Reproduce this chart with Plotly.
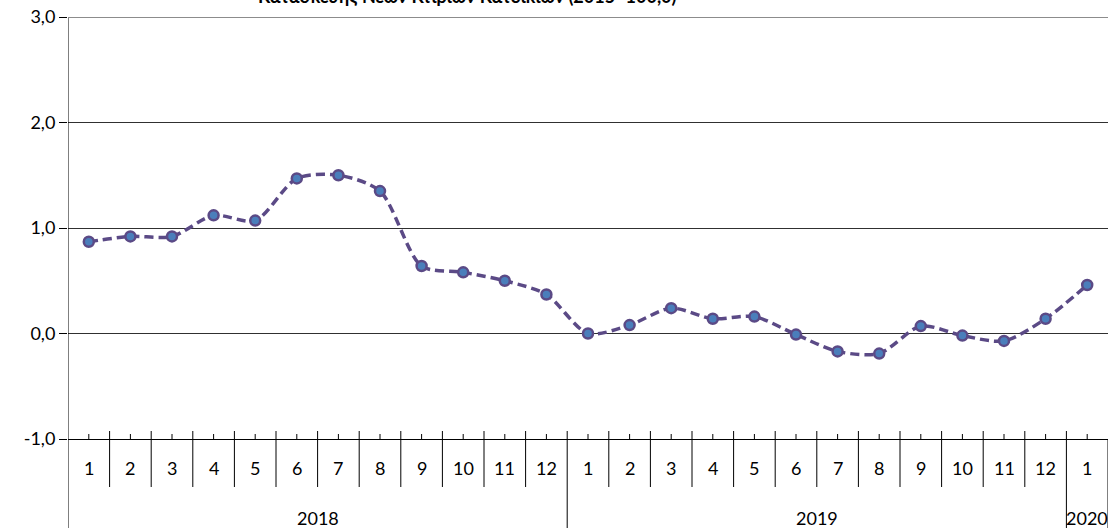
import plotly.graph_objects as go

# ---- data ----
months = ["1", "2", "3", "4", "5", "6", "7", "8", "9", "10", "11", "12",
          "1", "2", "3", "4", "5", "6", "7", "8", "9", "10", "11", "12",
          "1"]
years = ["2018"] * 12 + ["2019"] * 12 + ["2020"]
values = [0.87, 0.92, 0.92, 1.12, 1.07, 1.47, 1.50, 1.35, 0.64, 0.58, 0.50, 0.37,
          0.00, 0.08, 0.24, 0.14, 0.16, -0.01, -0.17, -0.19, 0.07, -0.02, -0.07, 0.14,
          0.46]
title_text = "Κατασκευής Νέων Κτιρίων Κατοικιών (2015=100,0)"
y_ticks = [-1, 0, 1, 2, 3]
y_tick_labels = ["-1,0", "0,0", "1,0", "2,0", "3,0"]

FONT = "Lato"
FS = 18
x = list(range(len(values)))

fig = go.Figure()
fig.add_trace(go.Scatter(
    x=x, y=values, mode="lines+markers",
    line=dict(color="#5b4a86", width=3.5, dash="9px,5px", shape="spline", smoothing=0.8),
    marker=dict(size=10, color="#4a7ebb", line=dict(color="#5b4a86", width=2.5)),
    hoverinfo="y",
))

# ---- category axis decoration (Excel-like two-level axis) ----
H = 422.0  # plot height in px
def py(px_below_axis):
    return -px_below_axis / H

shapes = []
n = len(values)
for k in range(1, n):
    year_boundary = years[k] != years[k - 1]
    shapes.append(dict(type="line", xref="x", yref="paper",
                       x0=k - 0.5, x1=k - 0.5, y0=8 / H,
                       y1=py(89) if year_boundary else py(48),
                       line=dict(color="#000000", width=1)))
for k in range(n):
    shapes.append(dict(type="line", xref="x", yref="paper",
                       x0=k, x1=k, y0=5 / H, y1=0,
                       line=dict(color="#000000", width=1)))
shapes.append(dict(type="line", xref="x", yref="paper", x0=-0.5, x1=-0.5,
                   y0=1, y1=py(89), line=dict(color="#000000", width=1)))
shapes.append(dict(type="line", xref="x", yref="paper", x0=n - 0.5, x1=n - 0.5,
                   y0=0, y1=py(89), line=dict(color="#000000", width=1)))
shapes.append(dict(type="line", xref="paper", yref="y", x0=0, x1=1, y0=3, y1=3,
                   line=dict(color="#8c8c8c", width=2)))

annotations = []
for k, m in enumerate(months):
    annotations.append(dict(x=k, y=py(29), xref="x", yref="paper", text=m,
                            showarrow=False, xanchor="center", yanchor="middle",
                            font=dict(family=FONT, size=FS, color="#000000")))
groups = []
for k, yv in enumerate(years):
    if not groups or groups[-1][0] != yv:
        groups.append([yv, k, k])
    else:
        groups[-1][2] = k
for yv, a, b in groups:
    annotations.append(dict(x=(a + b) / 2, y=py(79), xref="x", yref="paper", text=yv,
                            showarrow=False, xanchor="center", yanchor="middle",
                            font=dict(family=FONT, size=FS, color="#000000")))
annotations.append(dict(x=(467 - 68) / 1040.0, y=1 + 8 / H, xref="paper", yref="paper",
                        text="<b>" + title_text + "</b>",
                        showarrow=False, xanchor="center", yanchor="bottom",
                        font=dict(family=FONT, size=18, color="#000000")))

fig.update_layout(
    width=1110, height=528,
    margin=dict(l=68, r=2, t=17, b=89),
    paper_bgcolor="white", plot_bgcolor="white",
    showlegend=False,
    font=dict(family=FONT, size=FS, color="#000000"),
    xaxis=dict(range=[-0.5, n - 0.5], showticklabels=False, showgrid=False,
               zeroline=False, showline=True, linecolor="#000000", linewidth=1,
               ticks="", automargin=False),
    yaxis=dict(range=[-1, 3], tickvals=y_ticks, ticktext=y_tick_labels,
               ticklabeloverflow="allow", automargin=False,
               showgrid=True, gridcolor="#303030", gridwidth=1,
               zeroline=False, showline=False,
               ticks="outside", ticklen=8, tickcolor="#000000",
               tickfont=dict(family=FONT, size=FS, color="#000000")),
    shapes=shapes, annotations=annotations,
)

fig.write_html("out.html",
               config={"displayModeBar": False},
               post_script="document.body.style.margin='0';document.body.style.overflow='hidden';")
